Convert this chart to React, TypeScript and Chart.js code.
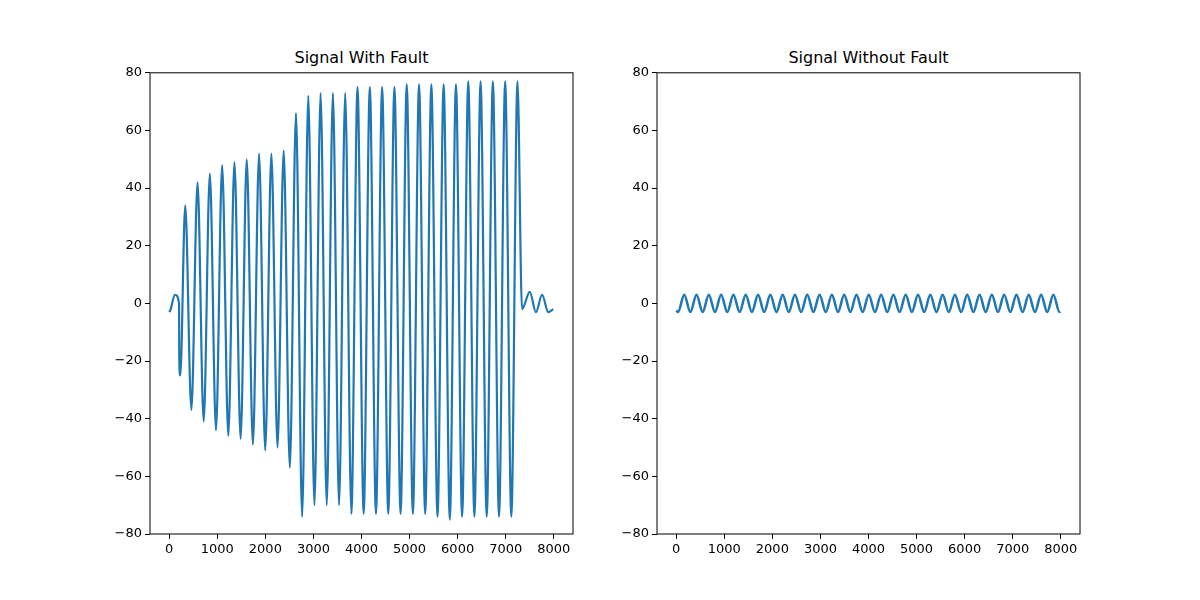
import { useRef, useEffect } from "react";
import { Chart, registerables } from "chart.js";

Chart.register(...registerables);

// Signal with fault: extrema (x, value)
const faultX = [0, 20, 120, 205, 208, 230,
  333, 461, 589, 717, 845, 973, 1101, 1229, 1357, 1485, 1613, 1741, 1869, 1997, 2125, 2253, 2381, 2509,
  2637, 2765, 2893, 3021, 3149, 3277, 3405, 3533, 3661, 3789, 3917, 4045, 4173, 4301, 4429, 4557, 4685,
  4813, 4941, 5069, 5197, 5325, 5453, 5581, 5709, 5837, 5965, 6093, 6221, 6349, 6477, 6605, 6733, 6861,
  6989, 7117, 7245, 7340, 7501, 7629, 7757, 7885, 7990];
const faultY = [-3, -2.5, 3, 0, -18, -25,
  34, -37, 42, -41, 45, -44, 48, -46, 49, -47, 50, -49, 52, -51, 52, -50, 53, -57,
  66, -74, 72, -70, 73, -70, 73, -70, 73, -73, 75, -73, 75, -73, 75, -73, 75,
  -73, 76, -73, 76, -73, 76, -74, 76, -75, 76, -74, 77, -74, 77, -74, 77, -74,
  77, -74, 77, -2, 4, -3, 3, -3, -2];

// Signal without fault: extrema
const normalX = [0, 38, 166, 294, 422, 550, 678, 806, 934, 1062, 1190, 1318, 1446, 1574, 1702, 1830, 1958,
  2086, 2214, 2342, 2470, 2598, 2726, 2854, 2982, 3110, 3238, 3366, 3494, 3622, 3750, 3878, 4006, 4134,
  4262, 4390, 4518, 4646, 4774, 4902, 5030, 5158, 5286, 5414, 5542, 5670, 5798, 5926, 6054, 6182, 6310,
  6438, 6566, 6694, 6822, 6950, 7078, 7206, 7334, 7462, 7590, 7718, 7846, 7974, 7990];
const normalY = [-2.5, -3, 3, -3, 3, -3, 3, -3, 3, -3, 3, -3, 3, -3, 3, -3, 3,
  -3, 3, -3, 3, -3, 3, -3, 3, -3, 3, -3, 3, -3, 3, -3, 3, -3,
  3, -3, 3, -3, 3, -3, 3, -3, 3, -3, 3, -3, 3, -3, 3, -3, 3,
  -3, 3, -3, 3, -3, 3, -3, 3, -3, 3, -3, 3, -3, -2.8];

const xTicks = [0, 1000, 2000, 3000, 4000, 5000, 6000, 7000, 8000];

const FONT = { family: "DejaVu Sans", size: 13 };
const fmt = (v: any) => String(v).replace("-", "\u2212");

const frame = {
  id: "frame",
  afterDraw(chart: Chart) {
    const { ctx, chartArea: a } = chart;
    ctx.save();
    ctx.strokeStyle = "#000";
    ctx.lineWidth = 1;
    ctx.strokeRect(a.left, a.top, a.right - a.left, a.bottom - a.top);
    ctx.restore();
  },
};

function Panel({ xs, ys, width, left, title }: { xs: number[]; ys: number[]; width: number; left: number; title: string }) {
  const ref = useRef<HTMLCanvasElement>(null);
  useEffect(() => {
    if (!ref.current) return;
    const chart = new Chart(ref.current, {
      type: "line",
      data: {
        datasets: [{
          data: xs.map((x, i) => ({ x, y: ys[i] })),
          borderColor: "#1f77b4",
          borderWidth: width,
          pointRadius: 0,
          cubicInterpolationMode: "monotone",
          fill: false,
        }],
      },
      options: {
        animation: false,
        responsive: false,
        layout: { padding: { top: 10, right: 10 } },
        plugins: { legend: { display: false }, tooltip: { enabled: false } },
        scales: {
          x: {
            type: "linear", min: -400, max: 8400,
            afterBuildTicks: (s: any) => { s.ticks = xTicks.map((v) => ({ value: v })); },
            afterFit: (s: any) => { s.height = 45; },
            grid: { drawOnChartArea: false, tickLength: 5, color: "#000" },
            border: { display: false },
            ticks: { color: "#000", font: FONT, maxRotation: 0, padding: 3, callback: fmt },
          },
          y: {
            min: -80, max: 80,
            afterFit: (s: any) => { s.width = 50; },
            grid: { drawOnChartArea: false, tickLength: 5, color: "#000" },
            border: { display: false },
            ticks: { color: "#000", font: FONT, stepSize: 20, padding: 3, callback: fmt },
          },
        },
      },
      plugins: [frame],
    });
    return () => chart.destroy();
  }, []);
  return (
    <>
      <div style={{ position: "absolute", left: left + 50, top: 48, width: 423, textAlign: "center", font: "16px 'DejaVu Sans'" }}>{title}</div>
      <canvas ref={ref} width={483} height={517} style={{ position: "absolute", left, top: 62 }} />
    </>
  );
}

export default function App() {
  return (
    <div style={{ position: "absolute", left: 0, top: 0, width: 1200, height: 600, background: "#fff" }}>
      <Panel xs={faultX} ys={faultY} width={2.2} left={100} title="Signal With Fault" />
      <Panel xs={normalX} ys={normalY} width={2.5} left={607} title="Signal Without Fault" />
    </div>
  );
}
